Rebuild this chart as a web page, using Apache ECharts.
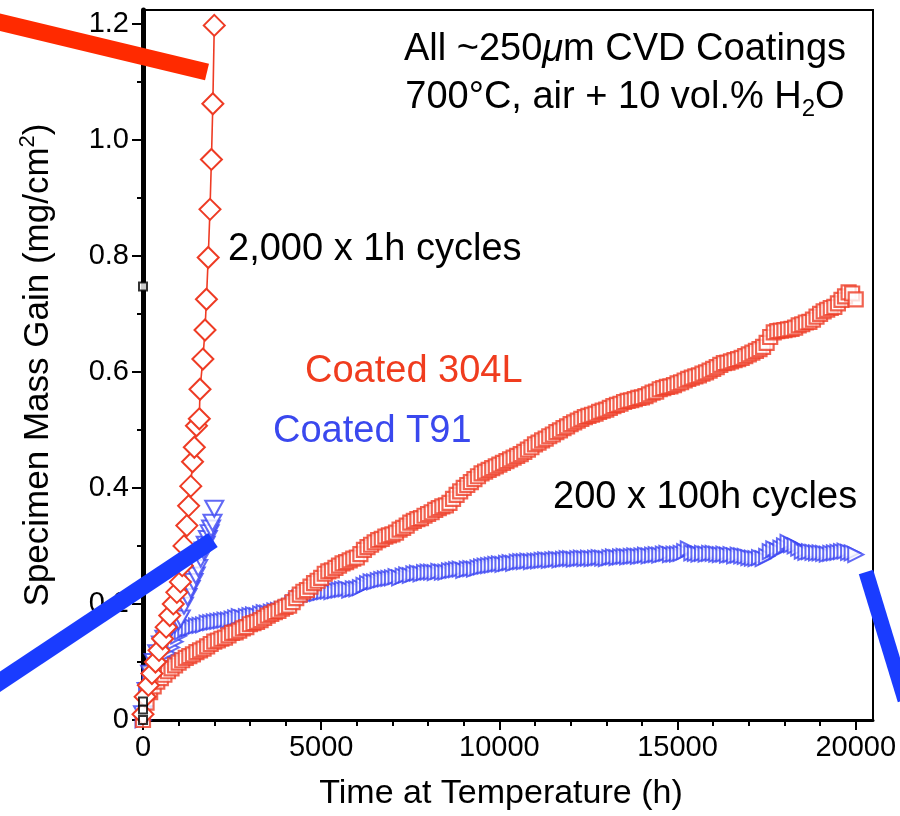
<!DOCTYPE html>
<html>
<head>
<meta charset="utf-8">
<script src="https://cdn.jsdelivr.net/npm/echarts@6/dist/echarts.min.js"></script>
<style>
  html, body { margin: 0; padding: 0; background: #fff; }
  #chart { width: 900px; height: 816px; }
</style>
</head>
<body>
<div id="chart"></div>
<script>
// tick labels
var xTickValues = [0, 5000, 10000, 15000, 20000];
var xMinorTicks = [1000, 2000, 3000, 4000, 6000, 7000, 8000, 9000, 11000, 12000, 13000, 14000, 16000, 17000, 18000, 19000];
var yTickValues = [0, 0.2, 0.4, 0.6, 0.8, 1.0, 1.2];
var yMinorTicks = [0.1, 0.3, 0.5, 0.7, 0.9, 1.1];

// 200 x 100h cycles, time in h
var longTimes = [
  0, 100, 200, 300, 400, 500, 600, 700, 800, 900,
  1000, 1100, 1200, 1300, 1400, 1500, 1600, 1700, 1800, 1900,
  2000, 2100, 2200, 2300, 2400, 2500, 2600, 2700, 2800, 2900,
  3000, 3100, 3200, 3300, 3400, 3500, 3600, 3700, 3800, 3900,
  4000, 4100, 4200, 4300, 4400, 4500, 4600, 4700, 4800, 4900,
  5000, 5100, 5200, 5300, 5400, 5500, 5600, 5700, 5800, 5900,
  6000, 6100, 6200, 6300, 6400, 6500, 6600, 6700, 6800, 6900,
  7000, 7100, 7200, 7300, 7400, 7500, 7600, 7700, 7800, 7900,
  8000, 8100, 8200, 8300, 8400, 8500, 8600, 8700, 8800, 8900,
  9000, 9100, 9200, 9300, 9400, 9500, 9600, 9700, 9800, 9900,
  10000, 10100, 10200, 10300, 10400, 10500, 10600, 10700, 10800, 10900,
  11000, 11100, 11200, 11300, 11400, 11500, 11600, 11700, 11800, 11900,
  12000, 12100, 12200, 12300, 12400, 12500, 12600, 12700, 12800, 12900,
  13000, 13100, 13200, 13300, 13400, 13500, 13600, 13700, 13800, 13900,
  14000, 14100, 14200, 14300, 14400, 14500, 14600, 14700, 14800, 14900,
  15000, 15100, 15200, 15300, 15400, 15500, 15600, 15700, 15800, 15900,
  16000, 16100, 16200, 16300, 16400, 16500, 16600, 16700, 16800, 16900,
  17000, 17100, 17200, 17300, 17400, 17500, 17600, 17700, 17800, 17900,
  18000, 18100, 18200, 18300, 18400, 18500, 18600, 18700, 18800, 18900,
  19000, 19100, 19200, 19300, 19400, 19500, 19600, 19700, 19800, 19900,
  20000
];

// Coated 304L, 100h cycles (mg/cm2)
var long304L = [
  0.000, 0.030, 0.048, 0.058, 0.066, 0.072, 0.078, 0.084, 0.089, 0.094,
  0.099, 0.103, 0.107, 0.110, 0.113, 0.117, 0.120, 0.123, 0.127, 0.131,
  0.135, 0.137, 0.140, 0.142, 0.146, 0.150, 0.151, 0.154, 0.158, 0.160,
  0.165, 0.167, 0.169, 0.172, 0.176, 0.180, 0.183, 0.186, 0.188, 0.192,
  0.195, 0.197, 0.203, 0.210, 0.216, 0.221, 0.224, 0.230, 0.236, 0.240,
  0.245, 0.252, 0.256, 0.258, 0.262, 0.266, 0.270, 0.272, 0.275, 0.278,
  0.280, 0.286, 0.293, 0.298, 0.302, 0.306, 0.310, 0.312, 0.316, 0.318,
  0.320, 0.323, 0.328, 0.331, 0.335, 0.340, 0.343, 0.346, 0.348, 0.352,
  0.355, 0.358, 0.362, 0.365, 0.368, 0.370, 0.374, 0.381, 0.388, 0.394,
  0.400, 0.405, 0.410, 0.415, 0.420, 0.425, 0.428, 0.431, 0.434, 0.437,
  0.440, 0.443, 0.446, 0.449, 0.452, 0.455, 0.458, 0.462, 0.466, 0.470,
  0.475, 0.478, 0.482, 0.485, 0.489, 0.492, 0.496, 0.499, 0.503, 0.506,
  0.510, 0.513, 0.516, 0.519, 0.522, 0.524, 0.526, 0.528, 0.531, 0.533,
  0.535, 0.538, 0.541, 0.543, 0.545, 0.548, 0.550, 0.551, 0.553, 0.555,
  0.556, 0.558, 0.561, 0.564, 0.566, 0.570, 0.572, 0.574, 0.575, 0.577,
  0.580, 0.582, 0.585, 0.588, 0.590, 0.592, 0.594, 0.597, 0.599, 0.602,
  0.605, 0.608, 0.612, 0.615, 0.616, 0.618, 0.620, 0.622, 0.624, 0.627,
  0.630, 0.633, 0.636, 0.639, 0.643, 0.650, 0.660, 0.668, 0.670, 0.671,
  0.672, 0.673, 0.674, 0.676, 0.680, 0.682, 0.685, 0.686, 0.690, 0.695,
  0.700, 0.704, 0.707, 0.710, 0.712, 0.718, 0.724, 0.730, 0.737, 0.735,
  0.725
];

// Coated T91, 100h cycles (mg/cm2)
var longT91 = [
  0.000, 0.050, 0.070, 0.083, 0.092, 0.100, 0.106, 0.115, 0.125, 0.135,
  0.145, 0.152, 0.157, 0.158, 0.160, 0.162, 0.163, 0.164, 0.167, 0.168,
  0.169, 0.170, 0.171, 0.172, 0.172, 0.174, 0.176, 0.178, 0.176, 0.178,
  0.180, 0.181, 0.180, 0.183, 0.185, 0.184, 0.186, 0.188, 0.189, 0.190,
  0.192, 0.195, 0.200, 0.205, 0.210, 0.214, 0.215, 0.216, 0.217, 0.218,
  0.220, 0.221, 0.222, 0.221, 0.223, 0.224, 0.225, 0.226, 0.224, 0.226,
  0.226, 0.228, 0.232, 0.235, 0.238, 0.238, 0.240, 0.242, 0.243, 0.244,
  0.245, 0.247, 0.245, 0.248, 0.250, 0.249, 0.252, 0.253, 0.252, 0.254,
  0.255, 0.255, 0.254, 0.256, 0.255, 0.255, 0.257, 0.258, 0.259, 0.260,
  0.258, 0.260, 0.261, 0.260, 0.262, 0.264, 0.265, 0.266, 0.267, 0.268,
  0.269, 0.268, 0.270, 0.271, 0.270, 0.272, 0.273, 0.273, 0.274, 0.273,
  0.274, 0.274, 0.275, 0.276, 0.275, 0.276, 0.277, 0.276, 0.277, 0.278,
  0.278, 0.277, 0.278, 0.279, 0.278, 0.279, 0.278, 0.279, 0.280, 0.279,
  0.278, 0.280, 0.281, 0.280, 0.281, 0.282, 0.281, 0.282, 0.283, 0.282,
  0.283, 0.284, 0.283, 0.284, 0.285, 0.284, 0.286, 0.287, 0.285, 0.286,
  0.286, 0.287, 0.290, 0.295, 0.288, 0.287, 0.286, 0.287, 0.286, 0.287,
  0.287, 0.286, 0.285, 0.286, 0.284, 0.285, 0.283, 0.284, 0.283, 0.282,
  0.280, 0.279, 0.278, 0.280, 0.278, 0.282, 0.290, 0.295, 0.292, 0.296,
  0.300, 0.306, 0.302, 0.300, 0.296, 0.291, 0.289, 0.290, 0.289, 0.288,
  0.288, 0.287, 0.286, 0.287, 0.288, 0.289, 0.290, 0.291, 0.289, 0.288,
  0.285
];

// 2,000 x 1h cycles
var short304LTimes = [0, 60, 150, 250, 350, 450, 550, 650, 750, 850, 950, 1050, 1100, 1150, 1230, 1280, 1340, 1390, 1440, 1500, 1580, 1600, 1680, 1740, 1780, 1830, 1880, 1920, 1960, 2000];
var short304L = [0.010, 0.040, 0.060, 0.080, 0.100, 0.120, 0.140, 0.160, 0.180, 0.200, 0.220, 0.238, 0.266, 0.300, 0.335, 0.369, 0.403, 0.445, 0.470, 0.507, 0.519, 0.570, 0.622, 0.672, 0.725, 0.797, 0.880, 0.966, 1.062, 1.197];

var shortT91Times = [0, 100, 200, 300, 400, 500, 600, 700, 800, 900, 1000, 1060, 1150, 1250, 1340, 1420, 1480, 1550, 1620, 1700, 1760, 1820, 1870, 1910, 1950, 2000];
var shortT91 = [0.010, 0.050, 0.080, 0.100, 0.115, 0.130, 0.140, 0.150, 0.160, 0.165, 0.170, 0.175, 0.197, 0.212, 0.226, 0.238, 0.249, 0.262, 0.278, 0.292, 0.302, 0.312, 0.322, 0.330, 0.340, 0.364];

// stray points on the y axis
var refTimes = [0, 0, 0, 0];
var refGain = [0.747, 0.000, 0.018, 0.032];

function pairs(xs, ys) {
  var out = [];
  for (var i = 0; i < ys.length; i++) {
    out.push([xs[i], ys[i]]);
  }
  return out;
}

var FONT = "'Liberation Sans', Arial, Helvetica, sans-serif";
var RED = "#ee3b24";
var BLUE = "#3a44f2";
var X_MAX = 20485;
var Y_MAX = 1.2235;

var chart = echarts.init(document.getElementById("chart"));

var option = {
  animation: false,
  backgroundColor: "#fff",
  textStyle: { fontFamily: FONT },
  grid: {
    left: 143,
    top: 10,
    width: 730,
    height: 711.7,
    show: true,
    borderColor: "#000",
    borderWidth: 2,
    backgroundColor: "transparent",
  },
  xAxis: [
    {
      type: "value",
      min: 0,
      max: X_MAX,
      position: "bottom",
      name: "Time at Temperature (h)",
      nameLocation: "middle",
      nameGap: 57,
      nameTextStyle: { fontSize: 34, color: "#000", fontFamily: FONT, padding: [0, 14, 0, 0] },
      axisLine: { onZero: false, lineStyle: { color: "#000", width: 3 } },
      axisTick: { show: true, customValues: xTickValues, length: 10, lineStyle: { color: "#000", width: 2 } },
      axisLabel: {
        customValues: xTickValues,
        fontSize: 29,
        color: "#000",
        fontFamily: FONT,
        margin: 13,
        formatter: function (v) {
          return String(v);
        },
      },
      splitLine: { show: false },
    },
    {
      // minor ticks only
      type: "value",
      min: 0,
      max: X_MAX,
      position: "bottom",
      axisLine: { show: true, onZero: false, lineStyle: { color: "rgba(0,0,0,0)", width: 1 } },
      axisTick: { show: true, customValues: xMinorTicks, length: 6, lineStyle: { color: "#000", width: 2 } },
      axisLabel: { show: false },
      splitLine: { show: false },
    },
  ],
  yAxis: [
    {
      type: "value",
      min: 0,
      max: Y_MAX,
      position: "left",
      name: "Specimen Mass Gain (mg/cm{sup|2})",
      nameLocation: "middle",
      nameGap: 84,
      nameRotate: 90,
      nameTextStyle: {
        fontSize: 35,
        color: "#000",
        fontFamily: FONT,
        lineHeight: 42,
        rich: {
          sup: { fontSize: 22, lineHeight: 20, verticalAlign: "top", fontFamily: FONT, color: "#000" },
        },
      },
      axisLine: { onZero: false, lineStyle: { color: "#000", width: 5 } },
      axisTick: { show: true, customValues: yTickValues, length: 11, lineStyle: { color: "#000", width: 2 } },
      axisLabel: {
        customValues: yTickValues,
        fontSize: 29,
        color: "#000",
        fontFamily: FONT,
        margin: 14,
        formatter: function (v) {
          return v === 0 ? "0" : v.toFixed(1);
        },
      },
      splitLine: { show: false },
    },
    {
      // minor ticks only
      type: "value",
      min: 0,
      max: Y_MAX,
      position: "left",
      axisLine: { show: true, onZero: false, lineStyle: { color: "rgba(0,0,0,0)", width: 1 } },
      axisTick: { show: true, customValues: yMinorTicks, length: 6, lineStyle: { color: "#000", width: 2 } },
      axisLabel: { show: false },
      splitLine: { show: false },
    },
  ],
  series: [
    {
      name: "Coated T91 100h",
      type: "scatter",
      data: pairs(longTimes, longT91),
      symbol: "triangle",
      symbolRotate: -90,
      symbolSize: 15,
      itemStyle: { color: "#fff", borderColor: BLUE, borderWidth: 2 },
      z: 2,
    },
    {
      name: "Coated T91 1h",
      type: "scatter",
      data: pairs(shortT91Times, shortT91),
      symbol: "triangle",
      symbolRotate: 180,
      symbolSize: [18, 16],
      itemStyle: { color: "#fff", borderColor: BLUE, borderWidth: 2 },
      z: 3,
    },
    {
      name: "Coated 304L 100h",
      type: "scatter",
      data: pairs(longTimes, long304L),
      symbol: "rect",
      symbolSize: 14,
      itemStyle: { color: "#fff", borderColor: RED, borderWidth: 2.2 },
      z: 4,
    },
    {
      name: "Coated 304L 1h",
      type: "line",
      data: pairs(short304LTimes, short304L),
      symbol: "diamond",
      symbolSize: [21, 21],
      showSymbol: true,
      showAllSymbol: true,
      lineStyle: { color: RED, width: 1.6 },
      itemStyle: { color: "#fff", borderColor: RED, borderWidth: 2 },
      z: 5,
    },
    {
      name: "reference",
      type: "scatter",
      xAxisIndex: 1,
      yAxisIndex: 1,
      data: pairs(refTimes, refGain),
      symbol: "rect",
      symbolSize: 8,
      itemStyle: { color: "#fff", borderColor: "#000", borderWidth: 2 },
      z: 6,
    },
  ],
  graphic: [
    // title box text
    {
      type: "text",
      z: 50,
      style: {
        x: 625,
        y: 50,
        align: "center",
        verticalAlign: "middle",
        text: "All ~250{i|\u03bc}m CVD Coatings",
        font: "38px " + FONT,
        fill: "#000",
        rich: { i: { fontStyle: "italic", fontSize: 38, fontFamily: FONT } },
      },
    },
    {
      type: "text",
      z: 50,
      style: {
        x: 625,
        y: 98,
        align: "center",
        verticalAlign: "middle",
        text: "{n|700\u00b0C, air + 10 vol.% H}{sub|2}{n|O}",
        font: "38px " + FONT,
        fill: "#000",
        rich: {
          n: { fontSize: 38, fontFamily: FONT, lineHeight: 46, verticalAlign: "middle" },
          sub: { fontSize: 24, fontFamily: FONT, lineHeight: 22, verticalAlign: "bottom" },
        },
      },
    },
    {
      type: "text",
      z: 50,
      style: { x: 228, y: 250, verticalAlign: "middle", text: "2,000 x 1h cycles", font: "38px " + FONT, fill: "#000" },
    },
    {
      type: "text",
      z: 50,
      style: { x: 305, y: 372, verticalAlign: "middle", text: "Coated 304L", font: "38px " + FONT, fill: "#f03c1e" },
    },
    {
      type: "text",
      z: 50,
      style: { x: 273, y: 432, verticalAlign: "middle", text: "Coated T91", font: "38px " + FONT, fill: "#3a48ee" },
    },
    {
      type: "text",
      z: 50,
      style: { x: 553, y: 498, verticalAlign: "middle", text: "200 x 100h cycles", font: "38px " + FONT, fill: "#000" },
    },
    // pointer bars
    {
      type: "line",
      z: 100,
      shape: { x1: -5, y1: 21, x2: 207, y2: 72 },
      style: { stroke: "#ff2a00", lineWidth: 17 },
    },
    {
      type: "line",
      z: 100,
      shape: { x1: -5, y1: 685, x2: 213, y2: 540 },
      style: { stroke: "#1a3cff", lineWidth: 17 },
    },
    {
      type: "line",
      z: 100,
      shape: { x1: 866, y1: 572, x2: 905, y2: 700 },
      style: { stroke: "#1a3cff", lineWidth: 15 },
    },
  ],
};

chart.setOption(option);
window.addEventListener("resize", function () {
  chart.resize();
});
</script>
</body>
</html>
